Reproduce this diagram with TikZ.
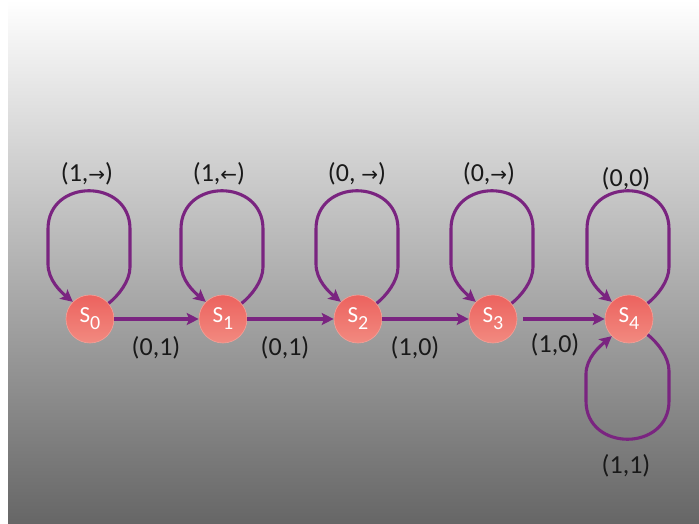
\documentclass[tikz,border=0pt]{standalone}
\usepackage{fontspec}
\setmainfont{Carlito}
\newfontfamily\symfont{DejaVu Sans}
\usetikzlibrary{arrows.meta,calc}
\definecolor{purp}{RGB}{122,36,128}
\definecolor{nodetop}{RGB}{236,98,94}
\definecolor{nodebot}{RGB}{242,138,128}
\definecolor{nodeedge}{RGB}{244,160,152}
\definecolor{labtext}{RGB}{25,25,25}
\newcommand\stsub[1]{\raisebox{-7pt}{\fontsize{20}{20}\selectfont #1}}
\newcommand\rarr{{\symfont\fontsize{20}{20}\selectfont →}}
\newcommand\larr{{\symfont\fontsize{20}{20}\selectfont ←}}
\newcommand\toploop[1]{%
  \draw[flow] (#1.40) .. controls +(10,-8) and +(0,14) .. ($(#1)+(40,-52)$)
    -- ($(#1)+(40,-90)$)
    .. controls +(0,-51) and +(0,-51) .. ($(#1)+(-42,-90)$)
    -- ($(#1)+(-42,-55)$)
    .. controls +(0,16) and +(-12,-10) .. (#1.135);}
\begin{document}
\begin{tikzpicture}[x=1pt,y=-1pt,
  state/.style={circle, minimum size=48pt, inner sep=0pt, top color=nodetop, bottom color=nodebot,
    draw=nodeedge, line width=0.6pt, text=white, font=\fontsize{23}{23}\selectfont},
  flow/.style={draw=purp, line width=3.1pt, -{Stealth[length=12pt,width=12pt,inset=2.5pt]}},
  lab/.style={font=\fontsize{26}{26}\selectfont, text=labtext, inner sep=0pt}]
\useasboundingbox (0,0) rectangle (699,524);
\fill[white] (0,0) rectangle (699,524);
\shade[top color=white, middle color={rgb,255:red,188;green,188;blue,188}, bottom color={rgb,255:red,102;green,102;blue,102}] (8,0) rectangle (699,524);

\node[state] (s0) at (90,319) {S\stsub{0}};
\node[state] (s1) at (223,319) {S\stsub{1}};
\node[state] (s2) at (358,319) {S\stsub{2}};
\node[state] (s3) at (493,319) {S\stsub{3}};
\node[state] (s4) at (629,319) {S\stsub{4}};

\draw[flow] (s0) -- (s1);
\draw[flow] (s1) -- (s2);
\draw[flow] (s2) -- (s3);
\draw[flow, shorten <=6pt] (s3) -- (s4);

\toploop{s0}
\toploop{s1}
\toploop{s2}
\toploop{s3}
\toploop{s4}
\draw[flow] (s4.-40) .. controls +(10,8) and +(0,-14) .. ($(s4)+(40,52)$)
    -- ($(s4)+(40,82)$)
    .. controls +(0,51) and +(0,51) .. ($(s4)+(-43,82)$)
    -- ($(s4)+(-43,55)$)
    .. controls +(0,-16) and +(-12,10) .. (s4.-135);

\node[lab] (l0) at (87,174) {(1,\rarr)};
\node[lab] (l1) at (219,174) {(1,\larr)};
\node[lab] (l2) at (357,174) {(0, \rarr)};
\node[lab] (l3) at (489,174) {(0,\rarr)};
\node[lab] (l4) at (626,179) {(0,0)};
\node[lab] (l5) at (626,466) {(1,1)};
\node[lab] (e0) at (156,348) {(0,1)};
\node[lab] (e1) at (285,348) {(0,1)};
\node[lab] (e2) at (415,348) {(1,0)};
\node[lab] (e3) at (555,345) {(1,0)};
\end{tikzpicture}
\end{document}
